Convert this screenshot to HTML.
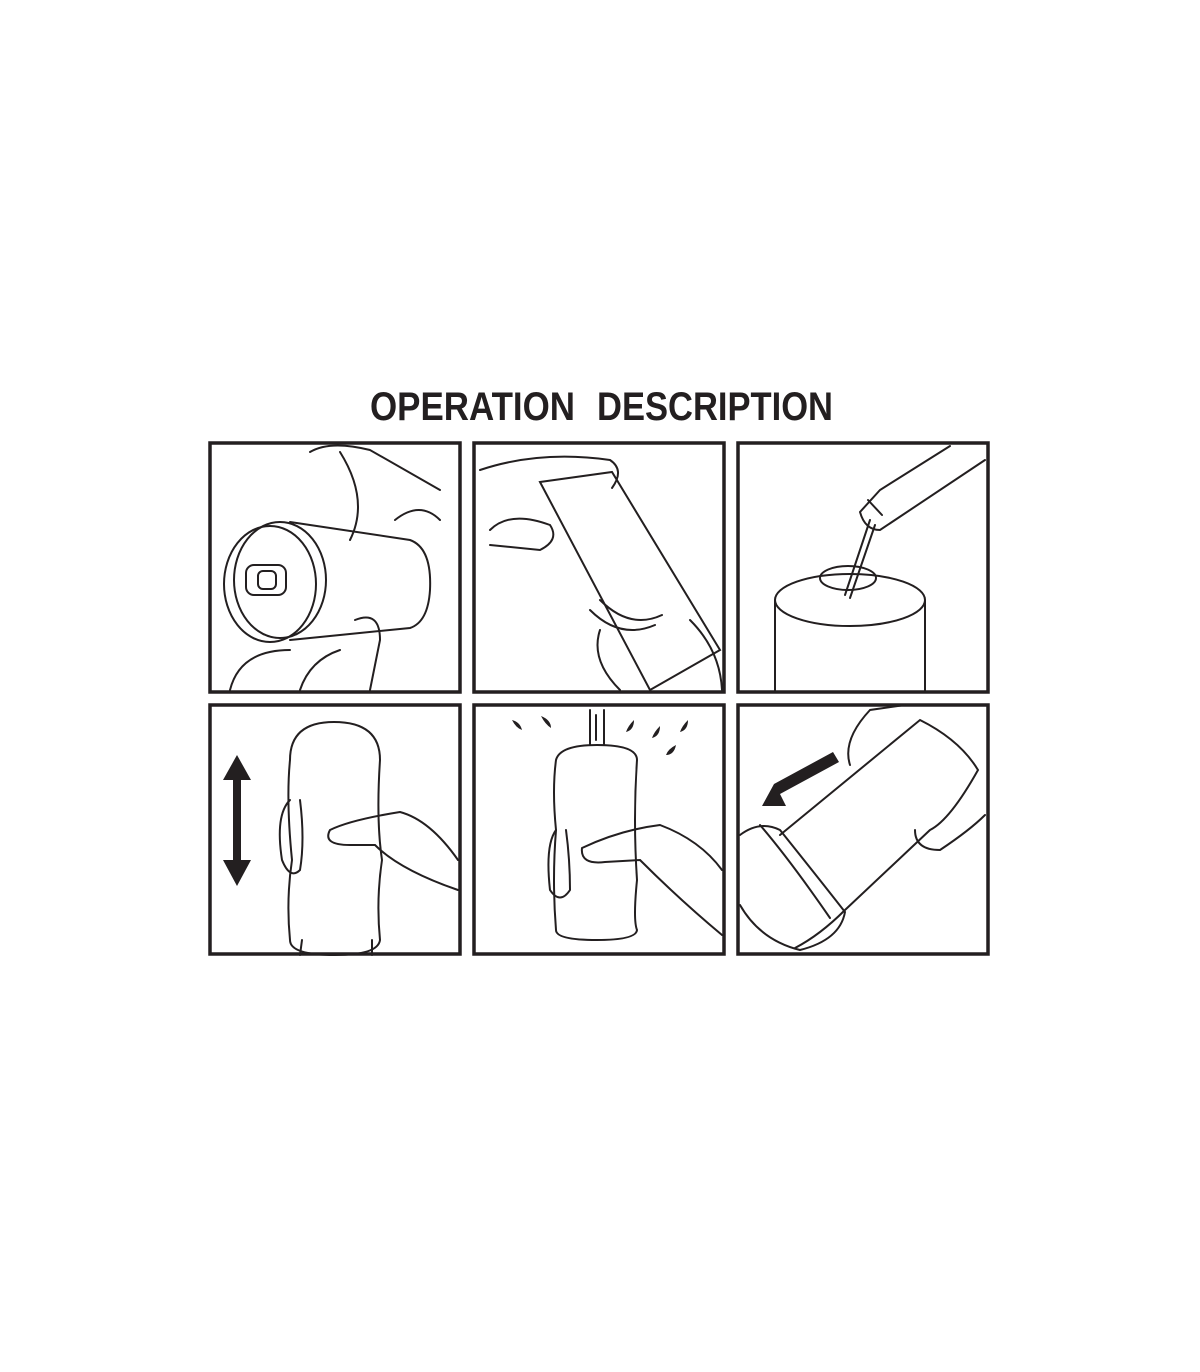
<!DOCTYPE html>
<html><head><meta charset="utf-8"><style>
html,body{margin:0;padding:0;background:#fff;}
svg{display:block;}
</style></head><body>
<svg width="1200" height="1372" viewBox="0 0 1200 1372" xmlns="http://www.w3.org/2000/svg">
<text x="370" y="420" font-family="Liberation Sans, sans-serif" font-weight="bold" font-size="40" fill="#231f20" textLength="205" lengthAdjust="spacingAndGlyphs">OPERATION</text>
<text x="597" y="420" font-family="Liberation Sans, sans-serif" font-weight="bold" font-size="40" fill="#231f20" textLength="236" lengthAdjust="spacingAndGlyphs">DESCRIPTION</text>
<g fill="none" stroke="#231f20" stroke-width="3.5">
<rect x="210" y="443" width="250" height="249"/>
<rect x="474" y="443" width="250" height="249"/>
<rect x="738" y="443" width="250" height="249"/>
<rect x="210" y="705" width="250" height="249"/>
<rect x="474" y="705" width="250" height="249"/>
<rect x="738" y="705" width="250" height="249"/>
</g>
<g fill="none" stroke="#231f20" stroke-width="2" stroke-linecap="round">
<ellipse cx="270" cy="584" rx="46" ry="58"/>
<ellipse cx="280" cy="580" rx="46" ry="58"/>
<path d="M290 522 L410 540 Q432 548 430 590 Q428 622 410 628 L290 640"/>
<rect x="246" y="565" width="40" height="30" rx="8"/>
<rect x="258" y="571" width="18" height="18" rx="5"/>
<path d="M310 452 Q330 440 370 450 L440 490 M340 452 Q370 500 350 540 M395 520 Q420 500 440 520 M355 620 Q380 610 380 640 L370 690 M230 690 Q240 650 290 650 M300 690 Q310 660 340 650"/>
<path d="M540 482 L612 472 L720 650 L650 690 Z"/>
<path d="M590 610 Q620 640 655 625 M600 600 Q630 630 662 615"/>
<path d="M480 470 Q540 450 610 460 Q625 470 612 488 M490 530 Q510 510 550 525 Q560 540 540 550 L490 545 M600 630 Q590 660 620 690 M690 620 Q720 650 722 690"/>
<path d="M775 692 L775 600 M925 692 L925 600"/>
<ellipse cx="850" cy="600" rx="75" ry="26"/>
<ellipse cx="848" cy="578" rx="28" ry="12"/>
<path d="M870 520 L845 595 M875 525 L850 598"/>
<path d="M860 512 Q865 530 880 530 L895 520 L985 460 M860 512 L880 490 L950 446 M868 500 L882 515"/>
<path d="M290 940 Q286 900 292 860 Q286 800 290 760 Q290 722 334 722 Q380 722 380 760 Q376 820 382 860 Q376 900 380 940 Q378 955 335 955 Q290 955 290 940"/>
<path d="M300 955 L302 940 M372 955 L372 940"/>
<path d="M330 830 Q350 820 400 812 Q430 820 458 860 M330 830 Q322 845 350 845 L375 845 Q400 870 458 890"/>
<path d="M290 800 Q275 815 282 860 Q290 880 300 870 Q305 840 300 800"/>
<path d="M556 930 Q552 880 556 830 Q552 790 556 760 Q560 745 597 745 Q637 745 637 760 Q633 820 637 880 Q633 920 637 930 Q636 940 597 940 Q556 940 556 930"/>
<path d="M590 745 L590 710 M604 745 L604 710 M596 740 L596 715"/>
<path d="M582 848 Q620 830 660 825 Q700 840 722 870 M582 848 Q580 865 605 862 L640 860 Q680 900 722 935"/>
<path d="M556 830 Q545 845 550 890 Q560 905 570 890 Q570 860 566 830"/>
<path d="M780 835 L920 720 Q960 740 978 770 Q950 820 930 830 L845 910 Q820 935 795 948"/>
<path d="M740 835 Q760 820 780 830 Q820 880 845 912 Q840 940 800 950 Q760 940 740 905"/>
<path d="M760 825 Q790 860 830 918"/>
<path d="M850 765 Q842 740 870 710 L905 705 M915 830 Q915 850 940 850 Q970 830 985 815"/>
</g>
<g fill="#231f20">
<rect x="233" y="775" width="8" height="90"/>
<polygon points="223,780 251,780 237,755"/>
<polygon points="223,860 251,860 237,886"/>
<polygon points="762,806 774,784 833,752 839,762 780,794 786,806"/>
<path d="M512 720 q4 8 10 10 q-2-8-10-10z M541 716 q4 8 10 12 q0-8-10-12z M634 720 q-6 6-8 12 q8-2 8-12z M660 726 q-6 6-8 12 q8-2 8-12z M688 720 q-6 6-8 12 q8-2 8-12z M676 745 q-8 4-10 10 q8 0 10-10z"/>
</g>
</svg>
</body></html>
